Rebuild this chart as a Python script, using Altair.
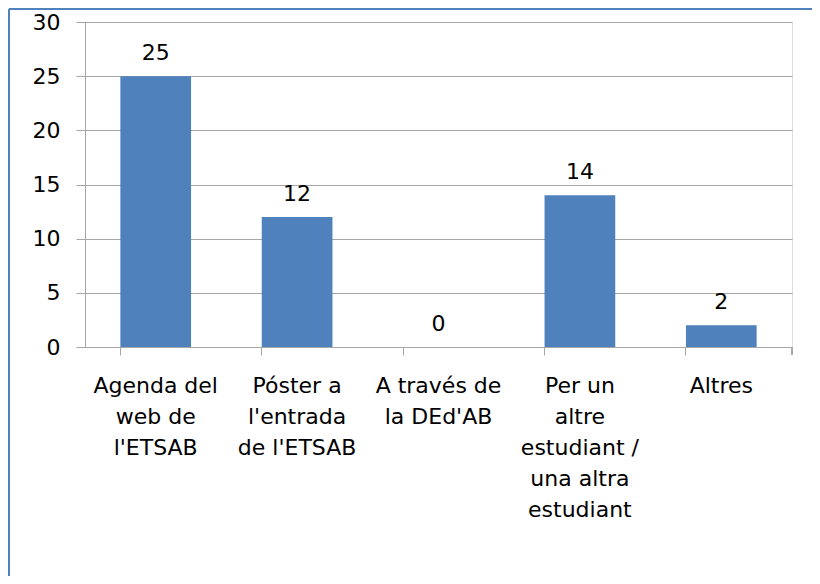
import altair as alt
import pandas as pd

categories = [
    "Agenda del\nweb de\nl'ETSAB",
    "Póster a\nl'entrada\nde l'ETSAB",
    "A través de\nla DEd'AB",
    "Per un\naltre\nestudiant /\nuna altra\nestudiant",
    "Altres",
]
values = [25, 12, 0, 14, 2]
y_ticks = [0, 5, 10, 15, 20, 25, 30]

df = pd.DataFrame({"cat": categories, "val": values})

FONT = "DejaVu Sans"
BLUE = "#4F81BD"
GRID = "#A6A6A6"
W, H = 707, 325
PL, PT, PR, PB = 77, 14, 20, 229

x_enc = alt.X(
    "cat:N",
    sort=categories,
    scale=alt.Scale(paddingInner=0.5, paddingOuter=0.25),
    axis=alt.Axis(
        title=None,
        labelAngle=0,
        labelExpr="split(datum.label, '\\n')",
        labelFont=FONT,
        labelFontSize=22,
        labelColor="#000000",
        labelLineHeight=31,
        labelPadding=20,
        labelBaseline="top",
        bandPosition=0,
        ticks=True,
        tickSize=8,
        tickColor=GRID,
        domainColor=GRID,
        grid=False,
    ),
)
y_enc = alt.Y(
    "val:Q",
    scale=alt.Scale(domain=[0, 30], nice=False),
    axis=alt.Axis(
        title=None,
        values=y_ticks,
        labelFont=FONT,
        labelFontSize=22,
        labelColor="#000000",
        labelPadding=16,
        tickSize=9,
        tickColor=GRID,
        domainColor=GRID,
        gridColor=GRID,
        grid=True,
    ),
)

bars = alt.Chart(df).mark_bar(color=BLUE).encode(x=x_enc, y=y_enc)
labels = alt.Chart(df).mark_text(
    font=FONT, fontSize=22, color="#000000", baseline="alphabetic", dy=-16
).encode(x=alt.X("cat:N", sort=categories), y="val:Q", text="val:Q")

end_tick = alt.Chart(df).mark_rule(color=GRID).encode(
    x=alt.value(W), y=alt.value(H), y2=alt.value(H + 8)
)
border_top = alt.Chart(df).mark_rule(color=BLUE, strokeWidth=2).encode(
    x=alt.value(-PL + 1), x2=alt.value(W + PR), y=alt.value(-PT + 1)
)
border_left = alt.Chart(df).mark_rule(color=BLUE, strokeWidth=2).encode(
    x=alt.value(-PL + 1), y=alt.value(-PT + 1), y2=alt.value(H + PB)
)

chart = (
    alt.layer(bars, labels, end_tick, border_top, border_left)
    .properties(
        width=W,
        height=H,
        autosize=alt.AutoSizeParams(type="none"),
        padding={"left": PL, "top": PT, "right": PR, "bottom": PB},
    )
    .configure_view(stroke=None)
    .configure(background="white")
)

chart.save("out.html", embed_options={"renderer": "svg", "actions": False})
